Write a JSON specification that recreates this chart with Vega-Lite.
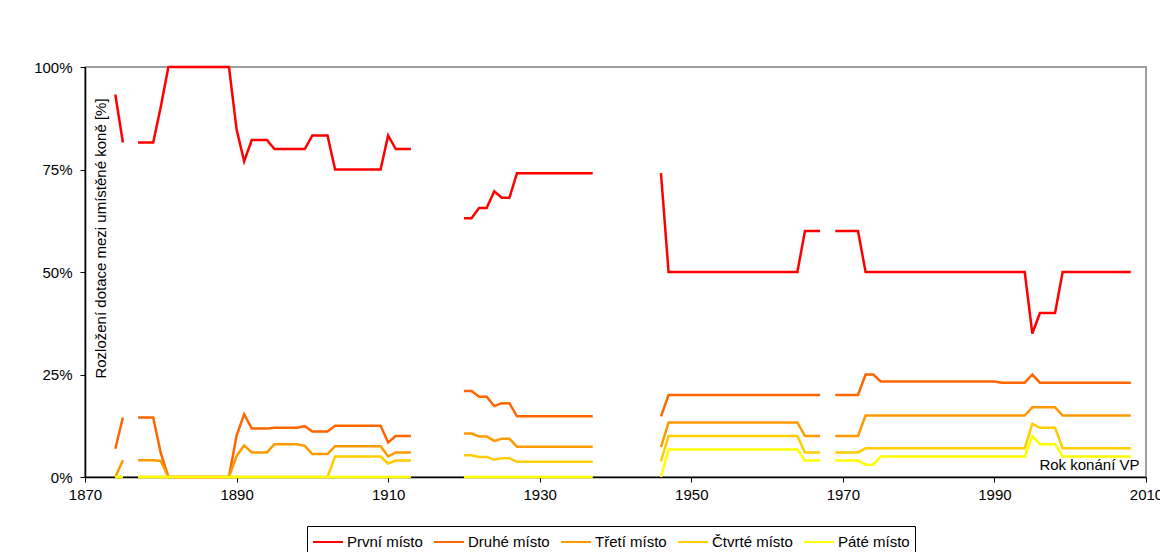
{
  "$schema": "https://vega.github.io/schema/vega-lite/v6.json",
  "width": 1061,
  "height": 410,
  "autosize": {"type": "none"},
  "padding": {"left": 85, "top": 67, "right": 14, "bottom": 75},
  "background": "white",
  "config": {
    "font": "Liberation Sans",
    "view": {"stroke": "#808080", "strokeWidth": 1.5},
    "axis": {"grid": false, "domainColor": "black", "domainWidth": 1.5, "tickColor": "black", "tickWidth": 1, "labelColor": "black", "titleColor": "black", "labelFont": "Liberation Sans", "titleFont": "Liberation Sans", "labelFontSize": 15, "titleFontSize": 15, "titleFontWeight": "normal"},
    "legend": {"labelFont": "Liberation Sans", "labelFontSize": 15, "labelColor": "black"}
  },
  "data": {
    "values": [
      {"rok": 1874, "První místo": 93.3, "Druhé místo": 6.9, "Třetí místo": 0, "Čtvrté místo": 0, "Páté místo": 0},
      {"rok": 1875, "První místo": 81.6, "Druhé místo": 14.5, "Třetí místo": 4.1, "Čtvrté místo": 0, "Páté místo": 0},
      {"rok": 1876, "První místo": null, "Druhé místo": null, "Třetí místo": null, "Čtvrté místo": null, "Páté místo": null},
      {"rok": 1877, "První místo": 81.6, "Druhé místo": 14.5, "Třetí místo": 4.1, "Čtvrté místo": 0, "Páté místo": 0},
      {"rok": 1878, "První místo": 81.6, "Druhé místo": 14.5, "Třetí místo": 4.1, "Čtvrté místo": 0, "Páté místo": 0},
      {"rok": 1879, "První místo": 81.6, "Druhé místo": 14.5, "Třetí místo": 4.1, "Čtvrté místo": 0, "Páté místo": 0},
      {"rok": 1880, "První místo": 90.3, "Druhé místo": 5.8, "Třetí místo": 3.9, "Čtvrté místo": 0, "Páté místo": 0},
      {"rok": 1881, "První místo": 100, "Druhé místo": 0, "Třetí místo": 0, "Čtvrté místo": 0, "Páté místo": 0},
      {"rok": 1882, "První místo": 100, "Druhé místo": 0, "Třetí místo": 0, "Čtvrté místo": 0, "Páté místo": 0},
      {"rok": 1883, "První místo": 100, "Druhé místo": 0, "Třetí místo": 0, "Čtvrté místo": 0, "Páté místo": 0},
      {"rok": 1884, "První místo": 100, "Druhé místo": 0, "Třetí místo": 0, "Čtvrté místo": 0, "Páté místo": 0},
      {"rok": 1885, "První místo": 100, "Druhé místo": 0, "Třetí místo": 0, "Čtvrté místo": 0, "Páté místo": 0},
      {"rok": 1886, "První místo": 100, "Druhé místo": 0, "Třetí místo": 0, "Čtvrté místo": 0, "Páté místo": 0},
      {"rok": 1887, "První místo": 100, "Druhé místo": 0, "Třetí místo": 0, "Čtvrté místo": 0, "Páté místo": 0},
      {"rok": 1888, "První místo": 100, "Druhé místo": 0, "Třetí místo": 0, "Čtvrté místo": 0, "Páté místo": 0},
      {"rok": 1889, "První místo": 100, "Druhé místo": 0, "Třetí místo": 0, "Čtvrté místo": 0, "Páté místo": 0},
      {"rok": 1890, "První místo": 84.8, "Druhé místo": 10.1, "Třetí místo": 5.1, "Čtvrté místo": 0, "Páté místo": 0},
      {"rok": 1891, "První místo": 77, "Druhé místo": 15.3, "Třetí místo": 7.7, "Čtvrté místo": 0, "Páté místo": 0},
      {"rok": 1892, "První místo": 82.2, "Druhé místo": 11.8, "Třetí místo": 6, "Čtvrté místo": 0, "Páté místo": 0},
      {"rok": 1893, "První místo": 82.2, "Druhé místo": 11.8, "Třetí místo": 6, "Čtvrté místo": 0, "Páté místo": 0},
      {"rok": 1894, "První místo": 82.2, "Druhé místo": 11.8, "Třetí místo": 6, "Čtvrté místo": 0, "Páté místo": 0},
      {"rok": 1895, "První místo": 80, "Druhé místo": 12, "Třetí místo": 8, "Čtvrté místo": 0, "Páté místo": 0},
      {"rok": 1896, "První místo": 80, "Druhé místo": 12, "Třetí místo": 8, "Čtvrté místo": 0, "Páté místo": 0},
      {"rok": 1897, "První místo": 80, "Druhé místo": 12, "Třetí místo": 8, "Čtvrté místo": 0, "Páté místo": 0},
      {"rok": 1898, "První místo": 80, "Druhé místo": 12, "Třetí místo": 8, "Čtvrté místo": 0, "Páté místo": 0},
      {"rok": 1899, "První místo": 80, "Druhé místo": 12.4, "Třetí místo": 7.6, "Čtvrté místo": 0, "Páté místo": 0},
      {"rok": 1900, "První místo": 83.3, "Druhé místo": 11.1, "Třetí místo": 5.6, "Čtvrté místo": 0, "Páté místo": 0},
      {"rok": 1901, "První místo": 83.3, "Druhé místo": 11.1, "Třetí místo": 5.6, "Čtvrté místo": 0, "Páté místo": 0},
      {"rok": 1902, "První místo": 83.3, "Druhé místo": 11.1, "Třetí místo": 5.6, "Čtvrté místo": 0, "Páté místo": 0},
      {"rok": 1903, "První místo": 75, "Druhé místo": 12.5, "Třetí místo": 7.5, "Čtvrté místo": 5, "Páté místo": 0},
      {"rok": 1904, "První místo": 75, "Druhé místo": 12.5, "Třetí místo": 7.5, "Čtvrté místo": 5, "Páté místo": 0},
      {"rok": 1905, "První místo": 75, "Druhé místo": 12.5, "Třetí místo": 7.5, "Čtvrté místo": 5, "Páté místo": 0},
      {"rok": 1906, "První místo": 75, "Druhé místo": 12.5, "Třetí místo": 7.5, "Čtvrté místo": 5, "Páté místo": 0},
      {"rok": 1907, "První místo": 75, "Druhé místo": 12.5, "Třetí místo": 7.5, "Čtvrté místo": 5, "Páté místo": 0},
      {"rok": 1908, "První místo": 75, "Druhé místo": 12.5, "Třetí místo": 7.5, "Čtvrté místo": 5, "Páté místo": 0},
      {"rok": 1909, "První místo": 75, "Druhé místo": 12.5, "Třetí místo": 7.5, "Čtvrté místo": 5, "Páté místo": 0},
      {"rok": 1910, "První místo": 83.3, "Druhé místo": 8.4, "Třetí místo": 5, "Čtvrté místo": 3.3, "Páté místo": 0},
      {"rok": 1911, "První místo": 80, "Druhé místo": 10, "Třetí místo": 6, "Čtvrté místo": 4, "Páté místo": 0},
      {"rok": 1912, "První místo": 80, "Druhé místo": 10, "Třetí místo": 6, "Čtvrté místo": 4, "Páté místo": 0},
      {"rok": 1913, "První místo": 80, "Druhé místo": 10, "Třetí místo": 6, "Čtvrté místo": 4, "Páté místo": 0},
      {"rok": 1914, "První místo": null, "Druhé místo": null, "Třetí místo": null, "Čtvrté místo": null, "Páté místo": null},
      {"rok": 1920, "První místo": 63.1, "Druhé místo": 21, "Třetí místo": 10.6, "Čtvrté místo": 5.3, "Páté místo": 0},
      {"rok": 1921, "První místo": 63.1, "Druhé místo": 21, "Třetí místo": 10.6, "Čtvrté místo": 5.3, "Páté místo": 0},
      {"rok": 1922, "První místo": 65.6, "Druhé místo": 19.6, "Třetí místo": 9.9, "Čtvrté místo": 4.9, "Páté místo": 0},
      {"rok": 1923, "První místo": 65.6, "Druhé místo": 19.6, "Třetí místo": 9.9, "Čtvrté místo": 4.9, "Páté místo": 0},
      {"rok": 1924, "První místo": 69.7, "Druhé místo": 17.3, "Třetí místo": 8.8, "Čtvrté místo": 4.2, "Páté místo": 0},
      {"rok": 1925, "První místo": 68.1, "Druhé místo": 18, "Třetí místo": 9.3, "Čtvrté místo": 4.6, "Páté místo": 0},
      {"rok": 1926, "První místo": 68.1, "Druhé místo": 18, "Třetí místo": 9.3, "Čtvrté místo": 4.6, "Páté místo": 0},
      {"rok": 1927, "První místo": 74.1, "Druhé místo": 14.8, "Třetí místo": 7.4, "Čtvrté místo": 3.7, "Páté místo": 0},
      {"rok": 1928, "První místo": 74.1, "Druhé místo": 14.8, "Třetí místo": 7.4, "Čtvrté místo": 3.7, "Páté místo": 0},
      {"rok": 1929, "První místo": 74.1, "Druhé místo": 14.8, "Třetí místo": 7.4, "Čtvrté místo": 3.7, "Páté místo": 0},
      {"rok": 1930, "První místo": 74.1, "Druhé místo": 14.8, "Třetí místo": 7.4, "Čtvrté místo": 3.7, "Páté místo": 0},
      {"rok": 1931, "První místo": 74.1, "Druhé místo": 14.8, "Třetí místo": 7.4, "Čtvrté místo": 3.7, "Páté místo": 0},
      {"rok": 1932, "První místo": 74.1, "Druhé místo": 14.8, "Třetí místo": 7.4, "Čtvrté místo": 3.7, "Páté místo": 0},
      {"rok": 1933, "První místo": 74.1, "Druhé místo": 14.8, "Třetí místo": 7.4, "Čtvrté místo": 3.7, "Páté místo": 0},
      {"rok": 1934, "První místo": 74.1, "Druhé místo": 14.8, "Třetí místo": 7.4, "Čtvrté místo": 3.7, "Páté místo": 0},
      {"rok": 1935, "První místo": 74.1, "Druhé místo": 14.8, "Třetí místo": 7.4, "Čtvrté místo": 3.7, "Páté místo": 0},
      {"rok": 1936, "První místo": 74.1, "Druhé místo": 14.8, "Třetí místo": 7.4, "Čtvrté místo": 3.7, "Páté místo": 0},
      {"rok": 1937, "První místo": 74.1, "Druhé místo": 14.8, "Třetí místo": 7.4, "Čtvrté místo": 3.7, "Páté místo": 0},
      {"rok": 1938, "První místo": null, "Druhé místo": null, "Třetí místo": null, "Čtvrté místo": null, "Páté místo": null},
      {"rok": 1946, "První místo": 74.1, "Druhé místo": 14.8, "Třetí místo": 7.3, "Čtvrté místo": 3.8, "Páté místo": 0},
      {"rok": 1947, "První místo": 50, "Druhé místo": 20, "Třetí místo": 13.3, "Čtvrté místo": 10, "Páté místo": 6.7},
      {"rok": 1948, "První místo": 50, "Druhé místo": 20, "Třetí místo": 13.3, "Čtvrté místo": 10, "Páté místo": 6.7},
      {"rok": 1949, "První místo": 50, "Druhé místo": 20, "Třetí místo": 13.3, "Čtvrté místo": 10, "Páté místo": 6.7},
      {"rok": 1950, "První místo": 50, "Druhé místo": 20, "Třetí místo": 13.3, "Čtvrté místo": 10, "Páté místo": 6.7},
      {"rok": 1951, "První místo": 50, "Druhé místo": 20, "Třetí místo": 13.3, "Čtvrté místo": 10, "Páté místo": 6.7},
      {"rok": 1952, "První místo": 50, "Druhé místo": 20, "Třetí místo": 13.3, "Čtvrté místo": 10, "Páté místo": 6.7},
      {"rok": 1953, "První místo": 50, "Druhé místo": 20, "Třetí místo": 13.3, "Čtvrté místo": 10, "Páté místo": 6.7},
      {"rok": 1954, "První místo": 50, "Druhé místo": 20, "Třetí místo": 13.3, "Čtvrté místo": 10, "Páté místo": 6.7},
      {"rok": 1955, "První místo": 50, "Druhé místo": 20, "Třetí místo": 13.3, "Čtvrté místo": 10, "Páté místo": 6.7},
      {"rok": 1956, "První místo": 50, "Druhé místo": 20, "Třetí místo": 13.3, "Čtvrté místo": 10, "Páté místo": 6.7},
      {"rok": 1957, "První místo": 50, "Druhé místo": 20, "Třetí místo": 13.3, "Čtvrté místo": 10, "Páté místo": 6.7},
      {"rok": 1958, "První místo": 50, "Druhé místo": 20, "Třetí místo": 13.3, "Čtvrté místo": 10, "Páté místo": 6.7},
      {"rok": 1959, "První místo": 50, "Druhé místo": 20, "Třetí místo": 13.3, "Čtvrté místo": 10, "Páté místo": 6.7},
      {"rok": 1960, "První místo": 50, "Druhé místo": 20, "Třetí místo": 13.3, "Čtvrté místo": 10, "Páté místo": 6.7},
      {"rok": 1961, "První místo": 50, "Druhé místo": 20, "Třetí místo": 13.3, "Čtvrté místo": 10, "Páté místo": 6.7},
      {"rok": 1962, "První místo": 50, "Druhé místo": 20, "Třetí místo": 13.3, "Čtvrté místo": 10, "Páté místo": 6.7},
      {"rok": 1963, "První místo": 50, "Druhé místo": 20, "Třetí místo": 13.3, "Čtvrté místo": 10, "Páté místo": 6.7},
      {"rok": 1964, "První místo": 50, "Druhé místo": 20, "Třetí místo": 13.3, "Čtvrté místo": 10, "Páté místo": 6.7},
      {"rok": 1965, "První místo": 60, "Druhé místo": 20, "Třetí místo": 10, "Čtvrté místo": 6, "Páté místo": 4},
      {"rok": 1966, "První místo": 60, "Druhé místo": 20, "Třetí místo": 10, "Čtvrté místo": 6, "Páté místo": 4},
      {"rok": 1967, "První místo": 60, "Druhé místo": 20, "Třetí místo": 10, "Čtvrté místo": 6, "Páté místo": 4},
      {"rok": 1968, "První místo": null, "Druhé místo": null, "Třetí místo": null, "Čtvrté místo": null, "Páté místo": null},
      {"rok": 1969, "První místo": 60, "Druhé místo": 20, "Třetí místo": 10, "Čtvrté místo": 6, "Páté místo": 4},
      {"rok": 1970, "První místo": 60, "Druhé místo": 20, "Třetí místo": 10, "Čtvrté místo": 6, "Páté místo": 4},
      {"rok": 1971, "První místo": 60, "Druhé místo": 20, "Třetí místo": 10, "Čtvrté místo": 6, "Páté místo": 4},
      {"rok": 1972, "První místo": 60, "Druhé místo": 20, "Třetí místo": 10, "Čtvrté místo": 6, "Páté místo": 4},
      {"rok": 1973, "První místo": 50, "Druhé místo": 25, "Třetí místo": 15, "Čtvrté místo": 7, "Páté místo": 3},
      {"rok": 1974, "První místo": 50, "Druhé místo": 25, "Třetí místo": 15, "Čtvrté místo": 7, "Páté místo": 3},
      {"rok": 1975, "První místo": 50, "Druhé místo": 23.3, "Třetí místo": 15, "Čtvrté místo": 7, "Páté místo": 5},
      {"rok": 1976, "První místo": 50, "Druhé místo": 23.3, "Třetí místo": 15, "Čtvrté místo": 7, "Páté místo": 5},
      {"rok": 1977, "První místo": 50, "Druhé místo": 23.3, "Třetí místo": 15, "Čtvrté místo": 7, "Páté místo": 5},
      {"rok": 1978, "První místo": 50, "Druhé místo": 23.3, "Třetí místo": 15, "Čtvrté místo": 7, "Páté místo": 5},
      {"rok": 1979, "První místo": 50, "Druhé místo": 23.3, "Třetí místo": 15, "Čtvrté místo": 7, "Páté místo": 5},
      {"rok": 1980, "První místo": 50, "Druhé místo": 23.3, "Třetí místo": 15, "Čtvrté místo": 7, "Páté místo": 5},
      {"rok": 1981, "První místo": 50, "Druhé místo": 23.3, "Třetí místo": 15, "Čtvrté místo": 7, "Páté místo": 5},
      {"rok": 1982, "První místo": 50, "Druhé místo": 23.3, "Třetí místo": 15, "Čtvrté místo": 7, "Páté místo": 5},
      {"rok": 1983, "První místo": 50, "Druhé místo": 23.3, "Třetí místo": 15, "Čtvrté místo": 7, "Páté místo": 5},
      {"rok": 1984, "První místo": 50, "Druhé místo": 23.3, "Třetí místo": 15, "Čtvrté místo": 7, "Páté místo": 5},
      {"rok": 1985, "První místo": 50, "Druhé místo": 23.3, "Třetí místo": 15, "Čtvrté místo": 7, "Páté místo": 5},
      {"rok": 1986, "První místo": 50, "Druhé místo": 23.3, "Třetí místo": 15, "Čtvrté místo": 7, "Páté místo": 5},
      {"rok": 1987, "První místo": 50, "Druhé místo": 23.3, "Třetí místo": 15, "Čtvrté místo": 7, "Páté místo": 5},
      {"rok": 1988, "První místo": 50, "Druhé místo": 23.3, "Třetí místo": 15, "Čtvrté místo": 7, "Páté místo": 5},
      {"rok": 1989, "První místo": 50, "Druhé místo": 23.3, "Třetí místo": 15, "Čtvrté místo": 7, "Páté místo": 5},
      {"rok": 1990, "První místo": 50, "Druhé místo": 23.3, "Třetí místo": 15, "Čtvrté místo": 7, "Páté místo": 5},
      {"rok": 1991, "První místo": 50, "Druhé místo": 23, "Třetí místo": 15, "Čtvrté místo": 7, "Páté místo": 5},
      {"rok": 1992, "První místo": 50, "Druhé místo": 23, "Třetí místo": 15, "Čtvrté místo": 7, "Páté místo": 5},
      {"rok": 1993, "První místo": 50, "Druhé místo": 23, "Třetí místo": 15, "Čtvrté místo": 7, "Páté místo": 5},
      {"rok": 1994, "První místo": 50, "Druhé místo": 23, "Třetí místo": 15, "Čtvrté místo": 7, "Páté místo": 5},
      {"rok": 1995, "První místo": 35, "Druhé místo": 25, "Třetí místo": 17, "Čtvrté místo": 13, "Páté místo": 10},
      {"rok": 1996, "První místo": 40, "Druhé místo": 23, "Třetí místo": 17, "Čtvrté místo": 12, "Páté místo": 8},
      {"rok": 1997, "První místo": 40, "Druhé místo": 23, "Třetí místo": 17, "Čtvrté místo": 12, "Páté místo": 8},
      {"rok": 1998, "První místo": 40, "Druhé místo": 23, "Třetí místo": 17, "Čtvrté místo": 12, "Páté místo": 8},
      {"rok": 1999, "První místo": 50, "Druhé místo": 23, "Třetí místo": 15, "Čtvrté místo": 7, "Páté místo": 5},
      {"rok": 2000, "První místo": 50, "Druhé místo": 23, "Třetí místo": 15, "Čtvrté místo": 7, "Páté místo": 5},
      {"rok": 2001, "První místo": 50, "Druhé místo": 23, "Třetí místo": 15, "Čtvrté místo": 7, "Páté místo": 5},
      {"rok": 2002, "První místo": 50, "Druhé místo": 23, "Třetí místo": 15, "Čtvrté místo": 7, "Páté místo": 5},
      {"rok": 2003, "První místo": 50, "Druhé místo": 23, "Třetí místo": 15, "Čtvrté místo": 7, "Páté místo": 5},
      {"rok": 2004, "První místo": 50, "Druhé místo": 23, "Třetí místo": 15, "Čtvrté místo": 7, "Páté místo": 5},
      {"rok": 2005, "První místo": 50, "Druhé místo": 23, "Třetí místo": 15, "Čtvrté místo": 7, "Páté místo": 5},
      {"rok": 2006, "První místo": 50, "Druhé místo": 23, "Třetí místo": 15, "Čtvrté místo": 7, "Páté místo": 5},
      {"rok": 2007, "První místo": 50, "Druhé místo": 23, "Třetí místo": 15, "Čtvrté místo": 7, "Páté místo": 5},
      {"rok": 2008, "První místo": 50, "Druhé místo": 23, "Třetí místo": 15, "Čtvrté místo": 7, "Páté místo": 5}
    ]
  },
  "transform": [
    {"fold": ["První místo", "Druhé místo", "Třetí místo", "Čtvrté místo", "Páté místo"], "as": ["misto", "podil"]}
  ],
  "mark": {"type": "line", "strokeWidth": 2.5, "clip": false},
  "encoding": {
    "x": {
      "field": "rok",
      "type": "quantitative",
      "scale": {"domain": [1870, 2010], "nice": false, "zero": false},
      "axis": {
        "values": [1870, 1890, 1910, 1930, 1950, 1970, 1990, 2010],
        "format": "d",
        "tickSize": 5,
        "labelPadding": 5,
        "title": "Rok konání VP",
        "titleX": 1054,
        "titleY": -13,
        "titleAlign": "right",
        "titleBaseline": "middle",
        "titleAngle": 0,
        "labelFlush": false
      }
    },
    "y": {
      "field": "podil",
      "type": "quantitative",
      "scale": {"domain": [0, 100], "nice": false},
      "axis": {
        "values": [0, 25, 50, 75, 100],
        "labelExpr": "datum.value + '%'",
        "tickSize": 5,
        "labelPadding": 8,
        "title": "Rozložení dotace mezi umístěné koně [%]",
        "titleX": 15,
        "titleY": 171,
        "titleAngle": -90,
        "titleAlign": "center",
        "titleBaseline": "middle"
      }
    },
    "color": {
      "field": "misto",
      "type": "nominal",
      "scale": {
        "domain": ["První místo", "Druhé místo", "Třetí místo", "Čtvrté místo", "Páté místo"],
        "range": ["#FF0000", "#FF6600", "#FF9900", "#FFCC00", "#FFFF00"]
      },
      "legend": {
        "orient": "none",
        "legendX": 222,
        "legendY": 459,
        "direction": "horizontal",
        "title": null,
        "strokeColor": "black",
        "fillColor": "white",
        "padding": 5,
        "symbolType": "M-1,0H2",
        "symbolSize": 400,
        "symbolStrokeWidth": 2,
        "labelOffset": 13,
        "columnPadding": 7
      }
    }
  }
}
